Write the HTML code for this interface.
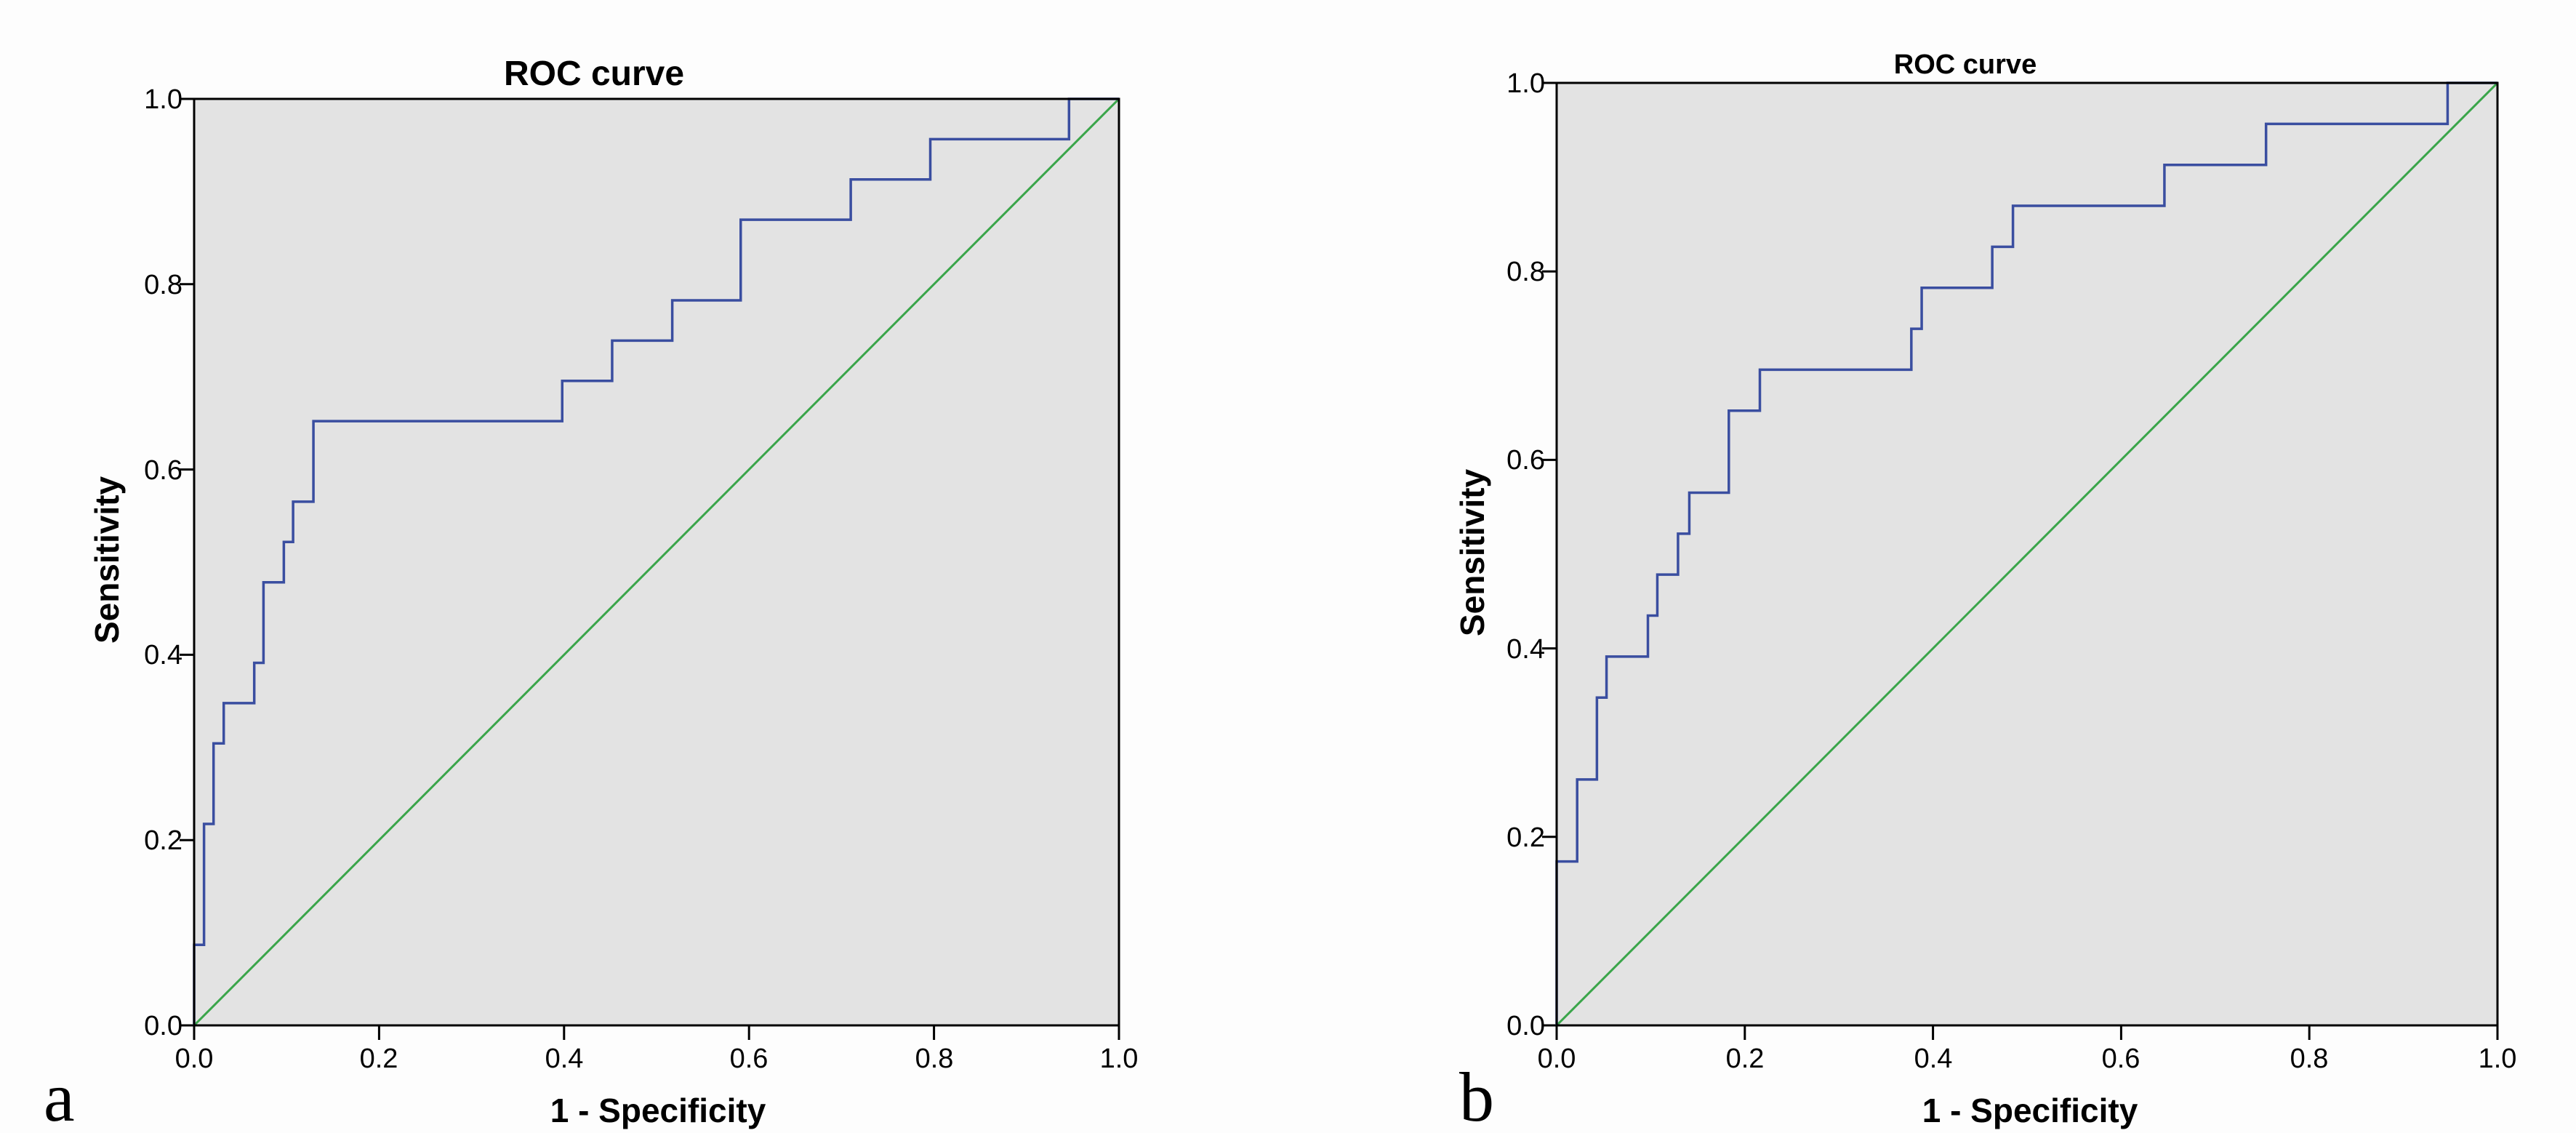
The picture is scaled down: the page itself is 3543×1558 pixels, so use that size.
<!DOCTYPE html>
<html><head><meta charset="utf-8"><style>
html,body{margin:0;padding:0;background:#fff}
svg{display:block}
text{font-family:"Liberation Sans",Arial,sans-serif;fill:#000}
</style></head><body>
<svg id="s" width="3543" height="1558" viewBox="0 0 3543 1558" xmlns="http://www.w3.org/2000/svg">
<rect width="3543" height="1558" fill="#fdfdfd"/>
<rect x="267" y="136" width="1272" height="1274" fill="#e3e3e3"/>
<rect x="2141" y="114" width="1294" height="1296" fill="#e3e3e3"/>
<g id="g"></g>
<rect x="267" y="136" width="1272" height="1274" fill="none" stroke="#000" stroke-width="3"/>
<rect x="2141" y="114" width="1294" height="1296" fill="none" stroke="#000" stroke-width="3"/>
<g font-size="38" text-anchor="middle">
<text x="267" y="1468">0.0</text><text x="521" y="1468">0.2</text><text x="776" y="1468">0.4</text><text x="1030" y="1468">0.6</text><text x="1285" y="1468">0.8</text><text x="1539" y="1468">1.0</text>
<text x="2141" y="1468">0.0</text><text x="2400" y="1468">0.2</text><text x="2659" y="1468">0.4</text><text x="2917" y="1468">0.6</text><text x="3176" y="1468">0.8</text><text x="3435" y="1468">1.0</text>
</g>
<g font-size="38" text-anchor="end">
<text x="251" y="1423">0.0</text><text x="251" y="1168">0.2</text><text x="251" y="913">0.4</text><text x="251" y="659">0.6</text><text x="251" y="404">0.8</text><text x="251" y="149">1.0</text>
<text x="2125" y="1423">0.0</text><text x="2125" y="1164">0.2</text><text x="2125" y="905">0.4</text><text x="2125" y="645">0.6</text><text x="2125" y="386">0.8</text><text x="2125" y="127">1.0</text>
</g>
<text x="817" y="117" font-size="48" font-weight="bold" text-anchor="middle">ROC curve</text>
<text x="2703" y="101" font-size="38" font-weight="bold" text-anchor="middle">ROC curve</text>
<text x="905" y="1543" font-size="46" font-weight="bold" text-anchor="middle">1 - Specificity</text>
<text x="2792" y="1543" font-size="46" font-weight="bold" text-anchor="middle">1 - Specificity</text>
<text transform="translate(163,770) rotate(-90)" font-size="46" font-weight="bold" text-anchor="middle">Sensitivity</text>
<text transform="translate(2041,760) rotate(-90)" font-size="46" font-weight="bold" text-anchor="middle">Sensitivity</text>
<text x="60" y="1541" font-size="96" style="font-family:'Liberation Serif',serif">a</text>
<text x="2007" y="1541" font-size="96" style="font-family:'Liberation Serif',serif">b</text>
</svg>
<script>
var g=document.getElementById('g'),ns='http://www.w3.org/2000/svg';
function el(t,a){var e=document.createElementNS(ns,t);for(var k in a)e.setAttribute(k,a[k]);g.appendChild(e);return e;}
function plot(X0,X1,Y0,Y1,steps){
 var W=X1-X0,H=Y0-Y1;
 for(var i=0;i<=5;i++){var x=X0+W*i/5,y=Y0-H*i/5;
  el('line',{x1:x,y1:Y0,x2:x,y2:Y0+20,stroke:'#000','stroke-width':3});
  el('line',{x1:X0-20,y1:y,x2:X0,y2:y,stroke:'#000','stroke-width':3});}
 el('line',{x1:X0,y1:Y0,x2:X1,y2:Y1,stroke:'#3aa54a','stroke-width':3});
 var p=[],cy=0;p.push(X0+','+Y0);
 steps.forEach(function(s){var x=X0+W*s[0],ny=Y0-H*s[1]/23;p.push(x+','+(Y0-H*cy/23));p.push(x+','+ny);cy=s[1];});
 p.push(X1+','+(Y0-H*cy/23));
 el('polyline',{points:p.join(' '),fill:'none',stroke:'#3a4ea0','stroke-width':3.5});
}
plot(267,1539,1410,136,[[0,2],[.0107,5],[.021,7],[.032,8],[.065,9],[.075,11],[.097,12],[.107,13],[.129,15],[.398,16],[.452,17],[.517,18],[.591,20],[.71,21],[.796,22],[.946,23]]);
plot(2141,3435,1410,114,[[0,4],[.0218,6],[.0428,8],[.053,9],[.097,10],[.107,11],[.129,12],[.141,13],[.183,15],[.216,16],[.377,17],[.388,18],[.463,19],[.485,20],[.646,21],[.754,22],[.947,23]]);
</script>
</body></html>
